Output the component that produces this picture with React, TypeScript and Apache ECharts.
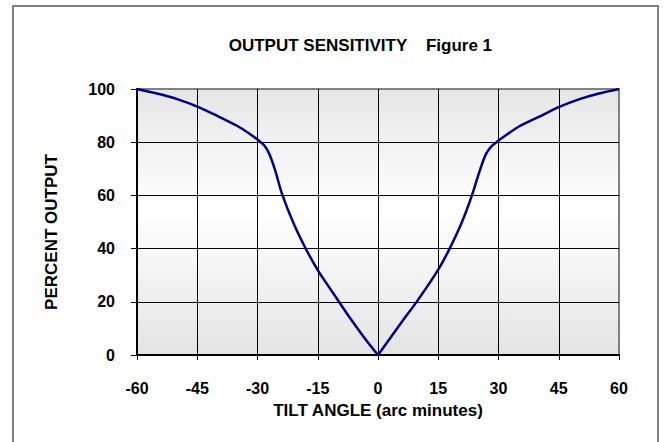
import React, { useEffect, useRef } from "react";
import * as echarts from "echarts";

const titleMain = "OUTPUT SENSITIVITY";
const titleFig = "Figure 1";
const xAxisName = "TILT ANGLE (arc minutes)";
const yAxisName = "PERCENT OUTPUT";

const xTicks = [-60, -45, -30, -15, 0, 15, 30, 45, 60];
const yTicks = [0, 20, 40, 60, 80, 100];

// tilt angle (arc minutes), percent output
const leftBranch: [number, number][] = [
  [-60, 100], [-55, 98.3], [-50, 96.2], [-45, 93.4], [-40, 89.9], [-35, 86.1],
  [-32, 83.2], [-30, 81], [-28.2, 78.6], [-27, 75.4], [-25.6, 69.4],
  [-23.9, 60.6], [-21, 49.4], [-18.2, 40.6], [-15, 31.9], [-11.1, 23.1],
  [-7.75, 15.6], [-3.6, 6.9], [0, 0],
];
const rightBranch: [number, number][] = [
  [0, 0], [3.1, 6.5], [6.4, 13.4], [9.75, 20.25], [15, 32.1], [17.9, 40.2],
  [20.8, 49.6], [23.3, 59.6], [25.4, 69.6], [26.9, 75.6], [28.3, 78.5],
  [30, 80.6], [32, 82.8], [35, 85.8], [40, 89.5], [45, 93.2], [50, 96.1],
  [55, 98.3], [60, 100],
];

const FONT = "Arial, 'Liberation Sans', Helvetica, sans-serif";

export default function App() {
  const ref = useRef<HTMLDivElement>(null);

  useEffect(() => {
    if (!ref.current) return;
    const chart = echarts.init(ref.current, undefined, { renderer: "svg" });
    const lineStyle = { color: "#000080", width: 2.5 };
    chart.setOption({
      animation: false,
      backgroundColor: "#ffffff",
      grid: {
        left: 137,
        right: 45,
        top: 89,
        bottom: 87,
        show: true,
        borderColor: "#808080",
        borderWidth: 2,
        backgroundColor: new echarts.graphic.LinearGradient(0, 0, 0, 1, [
          { offset: 0, color: "#e6e6e6" },
          { offset: 0.45, color: "#ffffff" },
          { offset: 1, color: "#e4e4e4" },
        ]),
      },
      xAxis: {
        type: "value",
        min: xTicks[0],
        max: xTicks[xTicks.length - 1],
        interval: 15,
        axisLine: { show: true, onZero: false, lineStyle: { color: "#000", width: 2 } },
        axisTick: { show: true, length: 5, lineStyle: { color: "#000", width: 1 } },
        splitLine: { show: true, showMinLine: false, showMaxLine: false, lineStyle: { color: "#000", width: 1 } },
        axisLabel: {
          margin: 25,
          color: "#000",
          fontSize: 16,
          fontWeight: "bold",
          fontFamily: FONT,
        },
      },
      yAxis: {
        type: "value",
        min: yTicks[0],
        max: yTicks[yTicks.length - 1],
        interval: 20,
        axisLine: { show: true, onZero: false, lineStyle: { color: "#000", width: 2 } },
        axisTick: { show: true, length: 6, lineStyle: { color: "#000", width: 1 } },
        splitLine: { show: true, showMinLine: false, showMaxLine: false, lineStyle: { color: "#000", width: 1 } },
        axisLabel: {
          margin: 22,
          color: "#000",
          fontSize: 16,
          fontWeight: "bold",
          fontFamily: FONT,
        },
      },
      series: [
        {
          type: "line",
          data: leftBranch,
          showSymbol: false,
          smooth: 0.3,
          clip: false,
          lineStyle,
          z: 5,
        },
        {
          type: "line",
          data: rightBranch,
          showSymbol: false,
          smooth: 0.3,
          clip: false,
          lineStyle,
          z: 5,
        },
      ],
      graphic: [
        {
          type: "rect",
          silent: true,
          z: -10,
          shape: { x: 13, y: 6, width: 645, height: 470 },
          style: { fill: "none", stroke: "#808080", lineWidth: 2 },
        },
        {
          type: "text",
          x: 318,
          y: 45,
          style: {
            text: titleMain,
            fill: "#000",
            font: `bold 17px ${FONT}`,
            textAlign: "center",
            textVerticalAlign: "middle",
          },
        },
        {
          type: "text",
          x: 459,
          y: 45,
          style: {
            text: titleFig,
            fill: "#000",
            font: `bold 17px ${FONT}`,
            textAlign: "center",
            textVerticalAlign: "middle",
          },
        },
        {
          type: "text",
          x: 378,
          y: 410,
          style: {
            text: xAxisName,
            fill: "#000",
            font: `bold 17px ${FONT}`,
            textAlign: "center",
            textVerticalAlign: "middle",
          },
        },
        {
          type: "text",
          x: 51,
          y: 232,
          rotation: Math.PI / 2,
          style: {
            text: yAxisName,
            fill: "#000",
            font: `bold 17px ${FONT}`,
            textAlign: "center",
            textVerticalAlign: "middle",
          },
        },
      ],
    });
    return () => chart.dispose();
  }, []);

  return (
    <div
      ref={ref}
      style={{ position: "absolute", left: 0, top: 0, width: 664, height: 442 }}
    />
  );
}
